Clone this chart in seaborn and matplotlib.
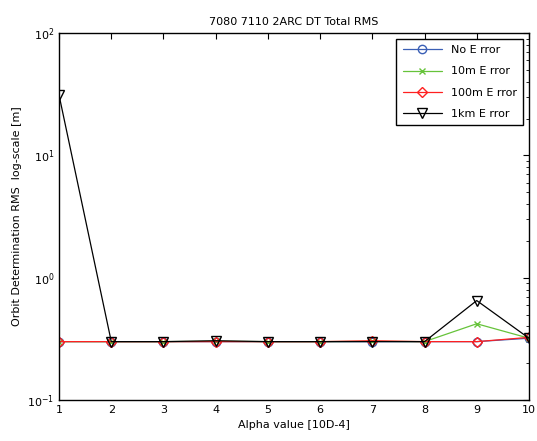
import matplotlib
matplotlib.use("Agg")
import matplotlib.pyplot as plt
import seaborn as sns
import numpy as np
import pandas as pd
from matplotlib.ticker import LogLocator, NullFormatter

alpha = [1, 2, 3, 4, 5, 6, 7, 8, 9, 10]
no_error = [0.30, 0.30, 0.30, 0.30, 0.30, 0.30, 0.30, 0.30, 0.30, 0.32]
err_10m = [0.30, 0.30, 0.30, 0.302, 0.30, 0.30, 0.302, 0.30, 0.42, 0.32]
err_100m = [0.30, 0.30, 0.30, 0.30, 0.30, 0.30, 0.305, 0.30, 0.30, 0.325]
err_1km = [31.0, 0.30, 0.30, 0.305, 0.30, 0.30, 0.30, 0.30, 0.65, 0.32]

series = [
    ("No Error", no_error, "#3a5fb5", "o", 6),
    ("10m Error", err_10m, "#66c33a", "x", 4),
    ("100m Error", err_100m, "#ff2020", "D", 5.5),
    ("1km Error", err_1km, "black", "v", 7.5),
]
labels = ["No E rror", "10m E rror", "100m E rror", "1km E rror"]

sns.set_style("white")
plt.rcParams["font.family"] = ["DejaVu Sans"]
plt.rcParams["text.color"] = "black"
plt.rcParams["axes.labelcolor"] = "black"
plt.rcParams["xtick.color"] = "black"
plt.rcParams["ytick.color"] = "black"
fig = plt.figure(figsize=(5.37, 4.41), dpi=100)
ax = fig.add_axes([0.11, 0.093, 0.875, 0.832])

for (name, vals, col, mk, ms), lab in zip(series, labels):
    df = pd.DataFrame({"alpha": alpha, "rms": vals})
    sns.lineplot(data=df, x="alpha", y="rms", ax=ax, color=col, marker=mk,
                 markersize=ms, markerfacecolor="none", markeredgecolor=col,
                 markeredgewidth=1.0, linewidth=0.9, label=lab)

ax.set_yscale("log")
ax.set_ylim(0.1, 100)
ax.set_xlim(1, 10)
ax.set_xticks(alpha)
ax.yaxis.set_major_locator(LogLocator(base=10, numticks=10))
ax.yaxis.set_minor_locator(LogLocator(base=10, subs=np.arange(2, 10), numticks=20))
ax.yaxis.set_minor_formatter(NullFormatter())
ax.tick_params(which="both", direction="in", top=True, right=True, labelsize=8)
ax.tick_params(which="major", length=4)
ax.tick_params(which="minor", length=2)
for s in ax.spines.values():
    s.set_color("black")
    s.set_linewidth(1.0)

ax.set_xlabel("Alpha value [10D-4]", fontsize=8)
ax.set_ylabel("Orbit Determination RMS  log-scale [m]", fontsize=8)
ax.set_title("7080 7110 2ARC DT Total RMS", fontsize=8, color="black")

leg = ax.legend(loc="upper right", fontsize=8, frameon=True, fancybox=False,
                edgecolor="black", framealpha=1, borderaxespad=0.5,
                handlelength=3.5, labelspacing=1.0, borderpad=0.6)
leg.get_frame().set_linewidth(1.0)

fig.savefig("out.png", dpi=100)
